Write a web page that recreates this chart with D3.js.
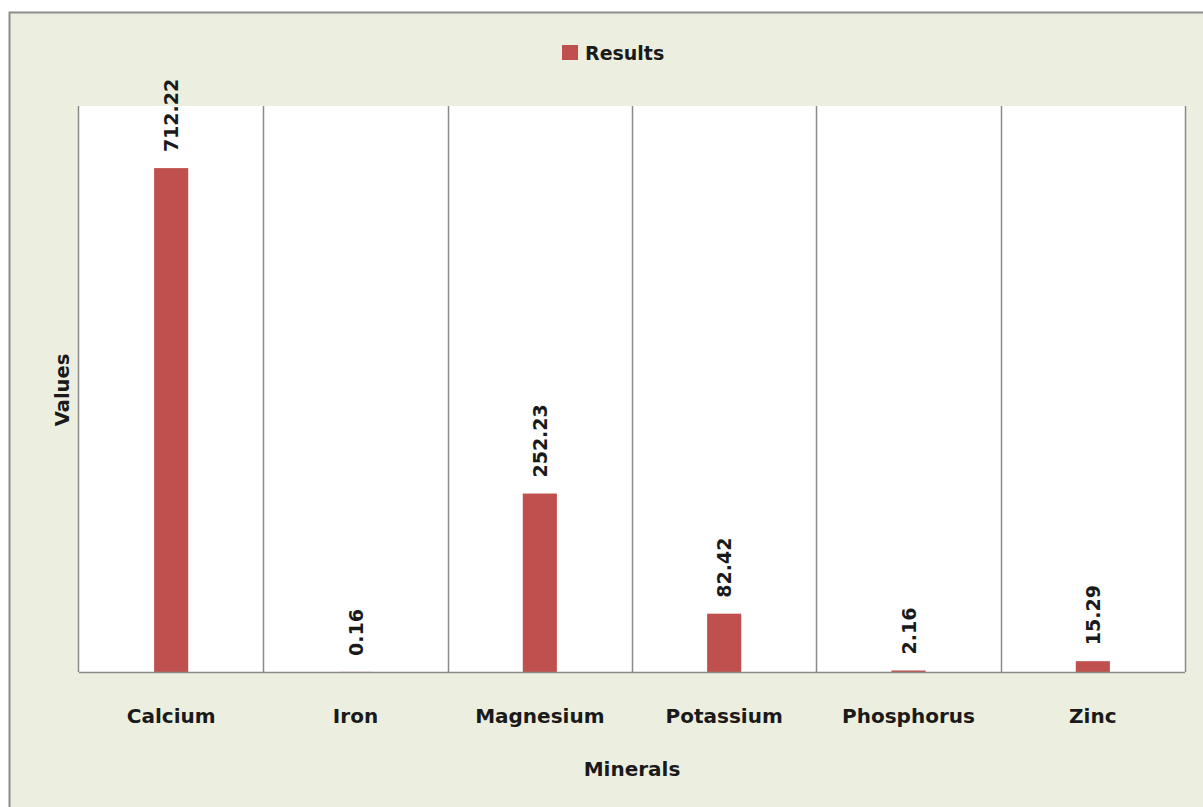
<!DOCTYPE html>
<html>
<head>
<meta charset="utf-8">
<script src="https://cdn.jsdelivr.net/npm/d3@7"></script>
<style>
  html, body { margin: 0; padding: 0; background: #ffffff; }
  svg { display: block; }
  text { font-family: "DejaVu Sans", "Open Sans", sans-serif; font-weight: bold; fill: #1a1a1a; }
</style>
</head>
<body>
<svg id="chart" width="1203" height="807"></svg>
<script>
// Mineral content results
const minerals = ["Calcium", "Iron", "Magnesium", "Potassium", "Phosphorus", "Zinc"];
const results = [712.22, 0.16, 252.23, 82.42, 2.16, 15.29];
const valueLabels = ["712.22", "0.16", "252.23", "82.42", "2.16", "15.29"];
const seriesName = "Results";

const svg = d3.select("#chart");
const W = 1203, H = 807;

// chart frame
svg.append("rect")
  .attr("x", 9.5).attr("y", 12.5)
  .attr("width", W + 20).attr("height", H + 20)
  .attr("fill", "#ecefdf")
  .attr("stroke", "#8c8c8c").attr("stroke-width", 2);

const plot = { left: 79, right: 1185, top: 106, bottom: 672 };

const x = d3.scaleBand()
  .domain(minerals)
  .range([plot.left, plot.right])
  .paddingInner(0).paddingOuter(0);

const y = d3.scaleLinear()
  .domain([0, 800])
  .range([plot.bottom, plot.top]);

// plot area
svg.append("rect")
  .attr("x", plot.left).attr("y", plot.top)
  .attr("width", plot.right - plot.left).attr("height", plot.bottom - plot.top)
  .attr("fill", "#ffffff");

// vertical separators between categories
const seps = minerals.slice(1).map(m => x(m)).concat([plot.right]);
svg.append("g").selectAll("line")
  .data(seps).join("line")
  .attr("x1", d => Math.round(d) + 0.5).attr("x2", d => Math.round(d) + 0.5)
  .attr("y1", plot.top).attr("y2", plot.bottom)
  .attr("stroke", "#8a8a8a").attr("stroke-width", 1.5);

// bars
const barW = x.bandwidth() * 0.185;
svg.append("g").selectAll("rect")
  .data(minerals).join("rect")
  .attr("x", d => x(d) + x.bandwidth() / 2 - barW / 2)
  .attr("y", (d, i) => y(results[i]))
  .attr("width", barW)
  .attr("height", (d, i) => plot.bottom - y(results[i]))
  .attr("fill", "#c0504d");

// axes lines
svg.append("line")
  .attr("x1", plot.left).attr("x2", plot.right)
  .attr("y1", plot.bottom + 0.5).attr("y2", plot.bottom + 0.5)
  .attr("stroke", "#8a8a8a").attr("stroke-width", 1.5);
svg.append("line")
  .attr("x1", plot.left - 0.5).attr("x2", plot.left - 0.5)
  .attr("y1", plot.top).attr("y2", plot.bottom)
  .attr("stroke", "#8a8a8a").attr("stroke-width", 1.5);

// value labels, rotated
svg.append("g").selectAll("text")
  .data(minerals).join("text")
  .attr("transform", (d, i) => `translate(${x(d) + x.bandwidth() / 2 + 7},${y(results[i]) - 16}) rotate(-90)`)
  .attr("text-anchor", "start")
  .attr("font-size", 19)
  .text((d, i) => valueLabels[i]);

// category labels
svg.append("g").selectAll("text")
  .data(minerals).join("text")
  .attr("x", d => x(d) + x.bandwidth() / 2)
  .attr("y", 723)
  .attr("text-anchor", "middle")
  .attr("font-size", 20)
  .text(d => d);

// axis titles
svg.append("text")
  .attr("x", (plot.left + plot.right) / 2).attr("y", 776)
  .attr("text-anchor", "middle").attr("font-size", 20)
  .text("Minerals");
svg.append("text")
  .attr("transform", `translate(69,${(plot.top + plot.bottom) / 2 + 1}) rotate(-90)`)
  .attr("text-anchor", "middle").attr("font-size", 19.5)
  .text("Values");

// legend
const lg = svg.append("g").attr("transform", "translate(562,45)");
lg.append("rect").attr("width", 16).attr("height", 15).attr("fill", "#c0504d");
lg.append("text").attr("x", 23).attr("y", 15).attr("font-size", 19).text(seriesName);
</script>
</body>
</html>
